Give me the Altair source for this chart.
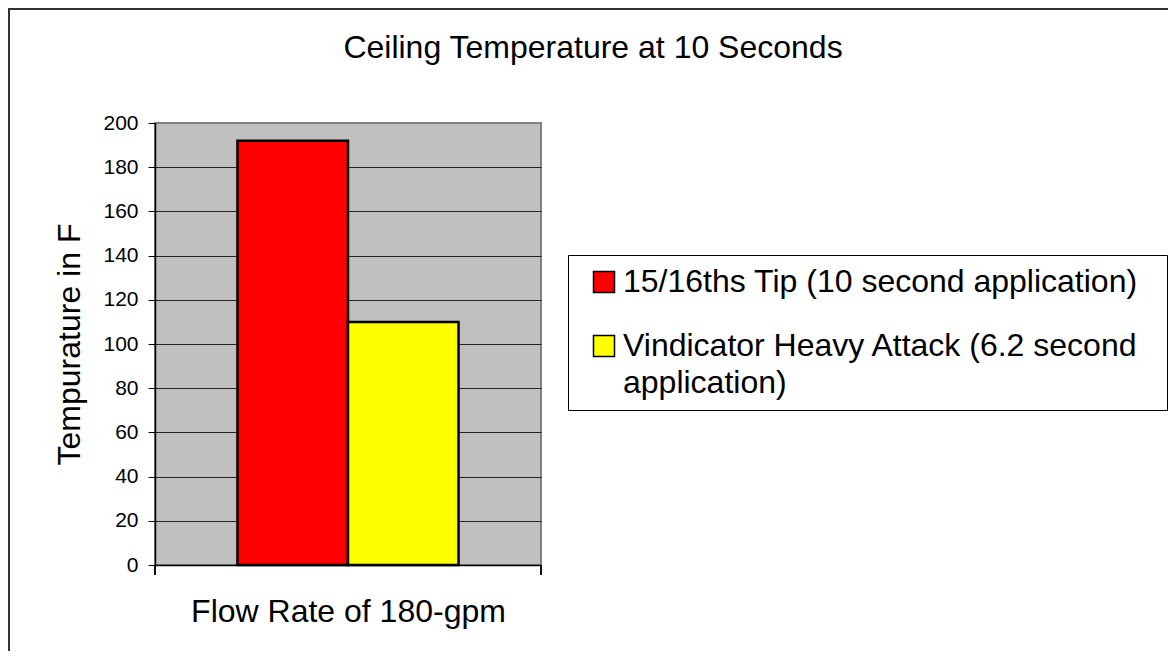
import altair as alt
import pandas as pd

# ---- data ----
group = ["Flow Rate of 180-gpm", "Flow Rate of 180-gpm"]
series = ["15/16ths Tip (10 second application)",
          "Vindicator Heavy Attack (6.2 second application)"]
temps = [192, 110]
colors = ["#FF0000", "#FFFF00"]
y_ticks = [0, 20, 40, 60, 80, 100, 120, 140, 160, 180, 200]
legend_lines = [["15/16ths Tip (10 second application)\u00a0\u00a0\u200b"],
                ["Vindicator Heavy Attack (6.2 second", "application)"]]
title_text = "Ceiling Temperature at 10 Seconds"
x_title = "Flow Rate of 180-gpm"
y_title = "Tempurature in F"

df = pd.DataFrame({"group": group, "series": series, "temp": temps})

FONT = "Liberation Sans, Arial, sans-serif"
W, H = 386, 442

# label expression for wrapped legend labels
parts = []
for s, lines in zip(series, legend_lines):
    arr = "[" + ",".join("'" + l + "'" for l in lines) + "]"
    parts.append(f"datum.label == '{s}' ? {arr} : ")
label_expr = "".join(parts) + "datum.label"

bars = alt.Chart(df).mark_bar(stroke="black", strokeWidth=2.5).encode(
    x=alt.X("group:N", title=x_title,
            scale=alt.Scale(paddingOuter=0.373, paddingInner=0),
            axis=alt.Axis(labels=False, ticks=False, domainColor="black",
                          domainWidth=1.5, titleFontSize=32, titleFont=FONT,
                          titleFontWeight="normal", titleColor="black",
                          titlePadding=31, grid=False)),
    xOffset=alt.XOffset("series:N", sort=series,
                        scale=alt.Scale(paddingInner=0, paddingOuter=0)),
    y=alt.Y("temp:Q", title=y_title,
            scale=alt.Scale(domain=[0, 200], nice=False),
            axis=alt.Axis(values=y_ticks, labelFontSize=21, labelFont=FONT,
                          labelColor="black", labelPadding=10, tickSize=7,
                          tickColor="black", tickWidth=1, domainColor="black",
                          domainWidth=1.5, titleFontSize=32, titleFont=FONT,
                          titleFontWeight="normal", titleColor="black",
                          titlePadding=16, grid=True,
                          gridColor={"condition": {"test": "datum.value == 200",
                                                   "value": "#808080"},
                                     "value": "#222222"},
                          gridWidth=1)),
    color=alt.Color("series:N",
                    scale=alt.Scale(domain=series, range=colors),
                    legend=alt.Legend(title=None, orient="none",
                                      legendX=413, legendY=132,
                                      symbolType="square", symbolSize=441,
                                      symbolStrokeColor="black",
                                      symbolStrokeWidth=1.5,
                                      symbolOffset=9, labelOffset=3,
                                      labelFontSize=32, labelFont=FONT,
                                      labelColor="black", labelLimit=1000,
                                      labelExpr=label_expr,
                                      strokeColor="black", padding=11,
                                      rowPadding=32, fillColor="white")),
)

edge_ticks = alt.Chart(df).mark_rule(color="black", strokeWidth=1.5).encode(
    x=alt.value(0), y=alt.value(H), y2=alt.value(H + 10)
) + alt.Chart(df).mark_rule(color="black", strokeWidth=1.5).encode(
    x=alt.value(W), y=alt.value(H), y2=alt.value(H + 10)
)

frame = alt.Chart(df).mark_rect(fill=None, stroke="#333333", strokeWidth=2).encode(
    x=alt.value(-146), x2=alt.value(W + 800),
    y=alt.value(-114), y2=alt.value(H + 300)
)

chart = alt.layer(frame, bars, edge_ticks).properties(
    width=W, height=H,
    title=alt.TitleParams(title_text, anchor="middle", frame="group", dx=245,
                          fontSize=32, font=FONT, fontWeight="normal",
                          color="black", baseline="alphabetic", offset=0,
                          dy=82),
    autosize=alt.AutoSizeParams(type="none"),
    padding={"left": 147, "top": 115, "right": 627, "bottom": 86},
).configure(
    background="white",
    style={"guide-label": {"lineHeight": 37}},
).configure_view(
    fill="#C0C0C0", stroke="#808080", strokeWidth=2
)

chart.save("out.html", embed_options={"renderer": "svg", "actions": False})
